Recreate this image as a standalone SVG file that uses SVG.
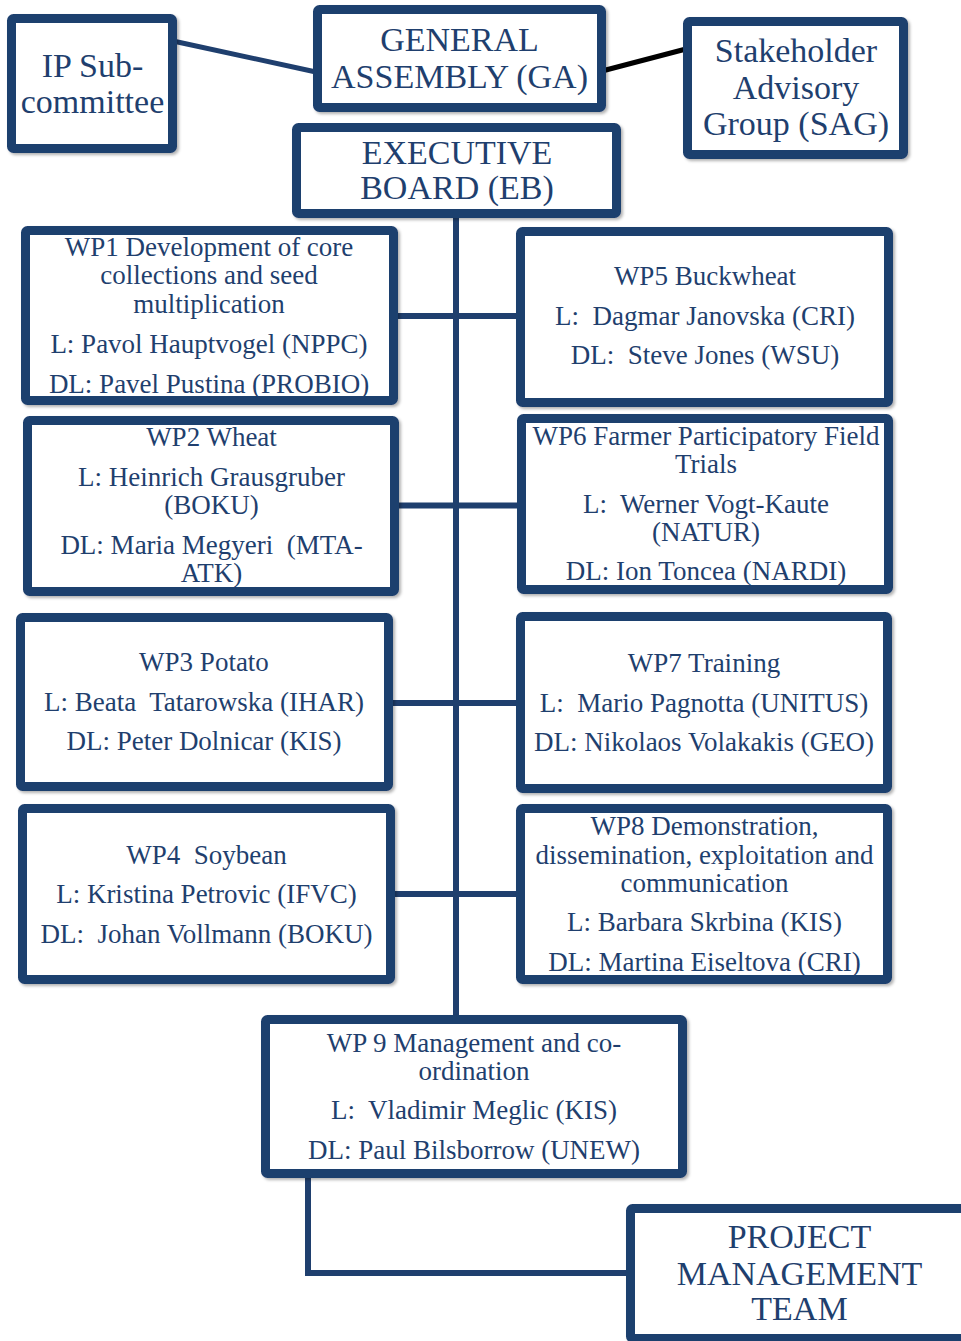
<svg xmlns="http://www.w3.org/2000/svg" width="961" height="1341" viewBox="0 0 961 1341">
<style>
.box{fill:#ffffff;stroke:#1F3F6E;stroke-width:9;filter:url(#sh)}
.t{font-family:'Liberation Serif','DejaVu Serif',serif;fill:#1F3F6E;text-anchor:middle;white-space:pre}
.big{font-size:34px}
.wp{font-size:27px}
.ln{fill:none;stroke:#1F3F6E;stroke-width:6}
</style>
<defs>
<filter id="sh" x="-5%" y="-5%" width="112%" height="115%">
<feDropShadow dx="2" dy="2" stdDeviation="1.5" flood-color="#000" flood-opacity="0.3"/>
</filter>
</defs>
<rect width="961" height="1341" fill="#ffffff"/>
<g id="connectors">
<line x1="456" y1="214" x2="456" y2="1017" class="ln"/>
<line x1="394" y1="316" x2="520" y2="316" class="ln"/>
<line x1="395" y1="505.5" x2="521" y2="505.5" class="ln"/>
<line x1="389" y1="703" x2="520" y2="703" class="ln"/>
<line x1="391" y1="894" x2="520" y2="894" class="ln"/>
<line x1="173" y1="41" x2="316" y2="72" stroke="#1F3F6E" stroke-width="5"/>
<line x1="602" y1="71" x2="686" y2="49" stroke="#000000" stroke-width="5"/>
<polyline points="308,1174 308,1273 630,1273" class="ln" stroke-width="7"/>
</g>
<g id="ip" font-family="Liberation Serif, serif">
<rect x="11.5" y="18.5" width="161" height="130" rx="2" class="box"/>
<text class="t big" x="92.5" y="77">IP Sub-</text>
<text class="t big" x="92.5" y="113">committee</text>
</g>
<g id="ga">
<rect x="317.5" y="9.5" width="284" height="98" rx="2" class="box"/>
<text class="t big" x="459.5" y="51">GENERAL</text>
<text class="t big" x="459.5" y="88">ASSEMBLY (GA)</text>
</g>
<g id="sag">
<rect x="687.5" y="21.5" width="216" height="133" rx="2" class="box"/>
<text class="t big" x="796" y="62">Stakeholder</text>
<text class="t big" x="796" y="99">Advisory</text>
<text class="t big" x="796" y="135">Group (SAG)</text>
</g>
<g id="eb">
<rect x="296.5" y="127.5" width="320" height="86" rx="2" class="box"/>
<text class="t big" x="457" y="164">EXECUTIVE</text>
<text class="t big" x="457" y="199">BOARD (EB)</text>
</g>
<g id="wp1">
<rect x="25.5" y="230.5" width="368" height="170" rx="2" class="box"/>
<text class="t wp" x="209" y="256">WP1 Development of core</text>
<text class="t wp" x="209" y="284">collections and seed</text>
<text class="t wp" x="209" y="313">multiplication</text>
<text class="t wp" x="209" y="353">L: Pavol Hauptvogel (NPPC)</text>
<text class="t wp" x="209" y="393">DL: Pavel Pustina (PROBIO)</text>
</g>
<g id="wp5">
<rect x="520.5" y="231.5" width="368" height="171" rx="2" class="box"/>
<text class="t wp" x="705" y="285">WP5 Buckwheat</text>
<text class="t wp" x="705" y="325">L:  Dagmar Janovska (CRI)</text>
<text class="t wp" x="705" y="364">DL:  Steve Jones (WSU)</text>
</g>
<g id="wp2">
<rect x="27.5" y="420.5" width="367" height="171" rx="2" class="box"/>
<text class="t wp" x="211.5" y="446">WP2 Wheat</text>
<text class="t wp" x="211.5" y="486">L: Heinrich Grausgruber</text>
<text class="t wp" x="211.5" y="514">(BOKU)</text>
<text class="t wp" x="211.5" y="554">DL: Maria Megyeri  (MTA-</text>
<text class="t wp" x="211.5" y="582">ATK)</text>
</g>
<g id="wp6">
<rect x="521.5" y="418.5" width="367" height="171" rx="2" class="box"/>
<text class="t wp" x="706" y="445">WP6 Farmer Participatory Field</text>
<text class="t wp" x="706" y="473">Trials</text>
<text class="t wp" x="706" y="513">L:  Werner Vogt-Kaute</text>
<text class="t wp" x="706" y="541">(NATUR)</text>
<text class="t wp" x="706" y="580">DL: Ion Toncea (NARDI)</text>
</g>
<g id="wp3">
<rect x="20.5" y="617.5" width="368" height="169" rx="2" class="box"/>
<text class="t wp" x="204" y="671">WP3 Potato</text>
<text class="t wp" x="204" y="711">L: Beata  Tatarowska (IHAR)</text>
<text class="t wp" x="204" y="750">DL: Peter Dolnicar (KIS)</text>
</g>
<g id="wp7">
<rect x="520.5" y="616.5" width="367" height="172" rx="2" class="box"/>
<text class="t wp" x="704" y="672">WP7 Training</text>
<text class="t wp" x="704" y="712">L:  Mario Pagnotta (UNITUS)</text>
<text class="t wp" x="704" y="751">DL: Nikolaos Volakakis (GEO)</text>
</g>
<g id="wp4">
<rect x="22.5" y="808.5" width="368" height="171" rx="2" class="box"/>
<text class="t wp" x="206.5" y="864">WP4  Soybean</text>
<text class="t wp" x="206.5" y="903">L: Kristina Petrovic (IFVC)</text>
<text class="t wp" x="206.5" y="943">DL:  Johan Vollmann (BOKU)</text>
</g>
<g id="wp8">
<rect x="520.5" y="808.5" width="367" height="171" rx="2" class="box"/>
<text class="t wp" x="704.5" y="835">WP8 Demonstration,</text>
<text class="t wp" x="704.5" y="864">dissemination, exploitation and</text>
<text class="t wp" x="704.5" y="892">communication</text>
<text class="t wp" x="704.5" y="931">L: Barbara Skrbina (KIS)</text>
<text class="t wp" x="704.5" y="971">DL: Martina Eiseltova (CRI)</text>
</g>
<g id="wp9">
<rect x="265.5" y="1019.5" width="417" height="154" rx="2" class="box"/>
<text class="t wp" x="474" y="1052">WP 9 Management and co-</text>
<text class="t wp" x="474" y="1080">ordination</text>
<text class="t wp" x="474" y="1119">L:  Vladimir Meglic (KIS)</text>
<text class="t wp" x="474" y="1159">DL: Paul Bilsborrow (UNEW)</text>
</g>
<g id="pmt">
<rect x="630.5" y="1208.5" width="345" height="130" rx="2" class="box"/>
<text class="t big" x="799.5" y="1248">PROJECT</text>
<text class="t big" x="799.5" y="1285">MANAGEMENT</text>
<text class="t big" x="799.5" y="1320">TEAM</text>
</g>
</svg>
